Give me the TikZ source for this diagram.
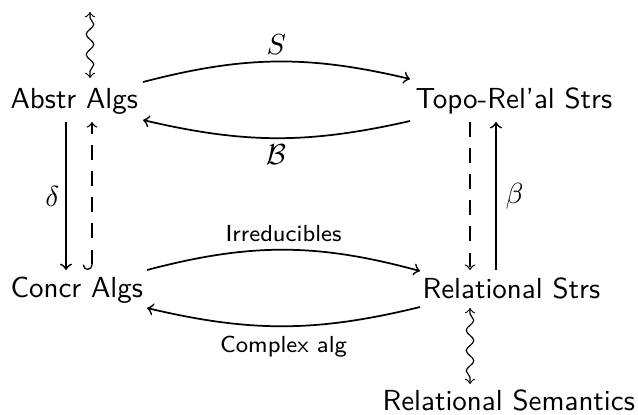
\documentclass[tikz,border=0pt]{standalone}
\usetikzlibrary{decorations.pathmorphing,arrows}
\begin{document}
\begin{tikzpicture}[x=0.3448pt,y=-0.3448pt,
  obj/.style={font=\sffamily, inner sep=0pt, anchor=base west},
  arr/.style={line width=0.6pt, -to},
  dsh/.style={line width=0.45pt, dash pattern=on 5pt off 4pt},
  lbl/.style={font=\sffamily\footnotesize},
  sq/.style={line width=0.4pt, to-to, decorate,
    decoration={snake, amplitude=1.3pt, segment length=7pt, pre length=2pt, post length=2pt}}]
\useasboundingbox (0,0) rectangle (638,414);
\node[obj] (A) at (10,108) {Abstr Algs};
\node[obj] (T) at (415,108) {Topo-Rel'al Strs};
\node[obj] (C) at (10,297) {Concr Algs};
\node[obj] (R) at (422,298) {Relational Strs};
\node[obj] (RS) at (382,410) {Relational Semantics};
\coordinate (top) at ([shift={(80,-96)}]A.base west);
% top row
\draw[arr] ([shift={(133,-26)}]A.base west) to[bend left=14]
  node[midway, above, inner sep=2pt] {$S$} ([shift={(-5,-29)}]T.base west);
\draw[arr] ([shift={(-5,13)}]T.base west) to[bend left=13]
  node[midway, below, inner sep=2pt] {$\mathcal{B}$} ([shift={(133,12)}]A.base west);
% bottom row
\draw[arr] ([shift={(137,-27)}]C.base west) to[bend left=15]
  node[midway, above, inner sep=2.5pt, lbl] {Irreducibles} ([shift={(-2,-27)}]R.base west);
\draw[arr] ([shift={(-2,9)}]R.base west) to[bend left=13.5]
  node[midway, below, inner sep=3pt, lbl] {Complex alg} ([shift={(137,11)}]C.base west);
% left verticals
\draw[arr] ([shift={(56,14)}]A.base west) -- node[midway, left, inner sep=2pt] {$\delta$} ([shift={(56,-27)}]C.base west);
\draw[dsh, right hook-to] ([shift={(82,-27)}]C.base west) -- ([shift={(82,14)}]A.base west);
% right verticals
\draw[dsh, -to] ([shift={(55,14)}]T.base west) -- ([shift={(48,-28)}]R.base west);
\draw[arr] ([shift={(74,-28)}]R.base west) -- node[midway, right, inner sep=3pt] {$\beta$} ([shift={(81,14)}]T.base west);
% squiggles
\draw[sq] (top) -- ([shift={(80,-30)}]A.base west);
\draw[sq] ([shift={(48,10)}]R.base west) -- ([shift={(88,-26)}]RS.base west);
\end{tikzpicture}
\end{document}
